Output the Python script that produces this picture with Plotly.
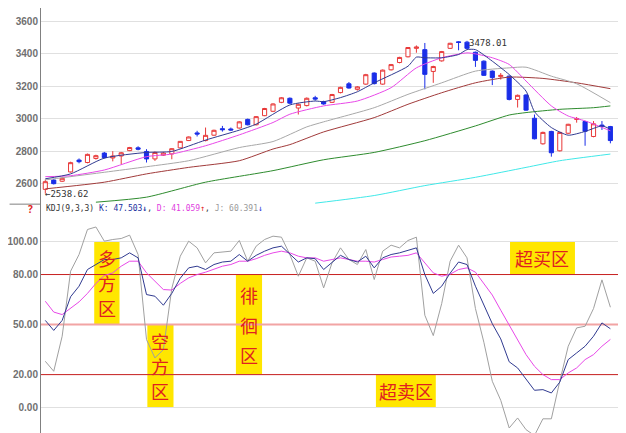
import plotly.graph_objects as go

# candles
idx = list(range(1, 69))
opens = [2565, 2622, 2615, 2672, 2745, 2730, 2755, 2788, 2758, 2770, 2803, 2820, 2798, 2752, 2775, 2783, 2820,
         2865, 2912, 2865, 2898, 2938, 2936, 2942, 2995, 2962, 3018, 3045, 3100, 3125, 3065, 3080, 3128, 3105,
         3100, 3160, 3214, 3180, 3212, 3280, 3212, 3300, 3345, 3380, 3432, 3424, 3290, 3355, 3432, 3472, 3470,
         3408, 3353, 3292, 3258, 3261, 3118, 3145, 3002, 2845, 2921, 2802, 2910, 2995, 2982, 2890, 2960, 2951]
highs = [2625, 2628, 2640, 2735, 2755, 2785, 2778, 2795, 2800, 2795, 2826, 2830, 2812, 2798, 2795, 2818, 2862,
         2890, 2925, 2945, 2932, 2955, 2945, 2984, 3000, 3016, 3066, 3094, 3132, 3130, 3092, 3130, 3140, 3110,
         3152, 3196, 3225, 3200, 3275, 3284, 3302, 3336, 3380, 3440, 3450, 3465, 3325, 3416, 3466, 3476, 3478.01,
         3412, 3358, 3296, 3280, 3265, 3148, 3150, 3025, 2920, 2925, 2920, 2968, 3010, 2986, 2985, 2985, 2955]
lows = [2538.62, 2595, 2610, 2668, 2725, 2725, 2748, 2755, 2737, 2720, 2800, 2805, 2730, 2740, 2770, 2750, 2818,
        2862, 2890, 2860, 2895, 2920, 2925, 2938, 2958, 2958, 3015, 3040, 3095, 3090, 3025, 3075, 3110, 3085,
        3096, 3155, 3184, 3172, 3208, 3210, 3208, 3296, 3340, 3376, 3405, 3180, 3220, 3350, 3428, 3420, 3425,
        3318, 3262, 3206, 3240, 3112, 3068, 3048, 2872, 2840, 2766, 2798, 2905, 2975, 2833, 2885, 2930, 2848]
closes = [2612, 2600, 2633, 2729, 2735, 2780, 2772, 2760, 2770, 2790, 2822, 2812, 2752, 2792, 2788, 2815, 2860,
          2887, 2905, 2897, 2928, 2932, 2930, 2980, 2962, 3012, 3062, 3090, 3128, 3095, 3088, 3125, 3120, 3090,
          3148, 3192, 3188, 3195, 3270, 3215, 3298, 3332, 3376, 3437, 3440, 3272, 3320, 3412, 3463, 3468, 3432,
          3358, 3266, 3252, 3266, 3118, 3143, 3052, 2876, 2915, 2790, 2915, 2965, 3000, 2922, 2968, 2954, 2865]

# moving averages, sampled at candle positions
ma5_x = [1, 4, 8, 13, 16, 20, 24, 26, 30, 33, 34, 36, 38, 40, 44, 45, 46, 48, 50, 51, 52, 54, 56, 58, 59, 61, 63, 65, 67, 68]
ma5_y = [2630, 2660, 2757, 2792, 2798, 2868, 2929, 2966, 3084, 3108, 3104, 3129, 3165, 3220, 3322, 3378, 3374, 3374,
         3394, 3424, 3424, 3353, 3271, 3169, 3043, 2945, 2898, 2921, 2955, 2935]
ma10_x = [1, 4, 8, 13, 16, 20, 24, 28, 30, 34, 38, 42, 45, 48, 51, 52, 54, 56, 58, 61, 63, 65, 68]
ma10_y = [2643, 2649, 2684, 2766, 2782, 2833, 2900, 2976, 3027, 3078, 3108, 3190, 3312, 3374, 3404, 3398, 3374,
          3333, 3231, 3078, 3016, 2986, 2925]
ma20_x = [1, 8, 13, 18, 24, 28, 32, 34, 40, 44, 48, 52, 56, 58, 61, 64, 68]
ma20_y = [2623, 2670, 2704, 2741, 2822, 2859, 2949, 2980, 3067, 3149, 3220, 3292, 3312, 3316, 3261, 3214, 3098]
ma30_x = [1, 8, 13, 18, 24, 28, 30, 34, 40, 44, 48, 52, 56, 60, 64, 68]
ma30_y = [2568, 2609, 2660, 2700, 2741, 2813, 2840, 2918, 3006, 3088, 3159, 3220, 3255, 3247, 3220, 3184]
ma60_x = [7, 13, 20, 28, 34, 40, 46, 52, 56, 58, 62, 66, 68]
ma60_y = [2486, 2517, 2609, 2680, 2747, 2792, 2864, 2955, 3022, 3037, 3057, 3067, 3078]
ma120_x = [33, 40, 46, 52, 58, 62, 68]
ma120_y = [2480, 2527, 2588, 2639, 2700, 2741, 2782]

# KDJ(9,3,3)
k_vals = [52.5, 46.5, 52.5, 66.7, 73, 83, 86, 89, 89, 90, 93, 90, 68, 67, 61.6, 68.7, 77.8, 84, 85, 83, 86, 87.5,
          88, 92, 88, 91.5, 94, 96, 97, 92, 87.5, 90, 89.5, 83, 87.5, 91.5, 89, 87.5, 91, 84, 90, 92, 93, 94.5, 96,
          80, 68.7, 73, 80.8, 87.5, 86, 73, 62, 50.5, 41.4, 27.7, 24, 17, 10.6, 11, 9, 15.5, 29, 33, 37, 43, 51, 47.5]
d_vals = [64, 57.5, 56, 59.6, 63.6, 68.7, 74.7, 79.4, 81, 85, 88, 88, 81, 76, 71, 70.7, 74.7, 78, 80, 81.4, 83, 85,
          86, 88, 88, 89.5, 91.5, 93, 94, 93, 91, 90, 90, 88, 89, 90, 89, 88, 88, 87.5, 89, 90.5, 91, 91.5, 93,
          87, 81, 79, 80.2, 83, 84, 81.4, 74.7, 67.7, 58.6, 49.5, 40.4, 32, 25, 20, 17, 17, 21, 24, 29, 32, 37, 41.1]
j_vals = [28, 22, 43, 82, 92, 107, 108.5, 100, 101, 101.6, 103.6, 92, 41, 30, 35, 71.7, 91, 100, 96, 87, 93, 93.5,
          94, 100.4, 88, 97, 101, 103, 102.4, 92, 79, 90, 88, 72, 87, 96, 89, 86, 95, 77, 94, 97.6, 96, 100.4, 102.4,
          55.6, 43.4, 62.6, 88, 97.6, 90, 59.6, 39.4, 16, 4.6, -12, -6, -13, -16.5, -6.5, -6.5, 16, 37, 48, 49,
          59.6, 76.8, 60.4]

# zone boxes: label, x0, x1, y0, y1 (in candle index / KDJ units); vertical labels get one char per row
zones = [("多方区", 6.8, 9.8, 50, 100, True),
         ("空方区", 13.1, 16.2, 0, 50, True),
         ("徘徊区", 23.6, 26.7, 20, 80, True),
         ("超买区", 56.1, 63.8, 80, 100, False),
         ("超卖区", 40.2, 47.3, 0, 20, False)]

x_span = [0.49, 70.8]

fig = go.Figure()

# reference lines on the KDJ panel
for lvl, col, w in [(80, '#c82020', 1), (50, '#f2a4a4', 2), (20, '#c82020', 1)]:
    fig.add_trace(go.Scatter(x=x_span, y=[lvl, lvl], mode='lines', line=dict(color=col, width=w),
                             yaxis='y2', showlegend=False, hoverinfo='skip'))

ma_sets = [(ma120_x, ma120_y, '#40e8e8'), (ma60_x, ma60_y, '#2e8b2e'), (ma30_x, ma30_y, '#a03a3a'),
           (ma20_x, ma20_y, '#a8a8a8'), (ma10_x, ma10_y, '#e848e8'), (ma5_x, ma5_y, '#303a90')]
for mx, my, col in ma_sets:
    fig.add_trace(go.Scatter(x=mx, y=my, mode='lines', line=dict(color=col, width=1, shape='spline', smoothing=0.6),
                             yaxis='y', showlegend=False, hoverinfo='skip'))

fig.add_trace(go.Candlestick(
    x=idx, open=opens, high=highs, low=lows, close=closes, yaxis='y', whiskerwidth=0,
    increasing=dict(line=dict(color='#e83838', width=1), fillcolor='white'),
    decreasing=dict(line=dict(color='#1a2ee8', width=1), fillcolor='#1a2ee8'),
    showlegend=False))

for vals, col in [(j_vals, '#a0a0a0'), (d_vals, '#e848e8'), (k_vals, '#303a90')]:
    fig.add_trace(go.Scatter(x=idx, y=vals, mode='lines', line=dict(color=col, width=1),
                             yaxis='y2', showlegend=False, hoverinfo='skip'))

zone_font = dict(family='Noto Sans CJK SC', size=18, color='#e02020')
for txt, x0, x1, y0, y1, vertical in zones:
    fig.add_shape(type='rect', xref='x', yref='y2', x0=x0, x1=x1, y0=y0, y1=y1,
                  fillcolor='#ffe600', line=dict(width=0), layer='below')
    if vertical:
        for ch, frac in zip(txt, [0.8, 0.5, 0.2]):
            fig.add_annotation(x=(x0 + x1) / 2, y=y0 + (y1 - y0) * frac, xref='x', yref='y2', text=ch,
                               showarrow=False, font=zone_font)
    else:
        fig.add_annotation(x=(x0 + x1) / 2, y=(y0 + y1) / 2, xref='x', yref='y2', text=txt,
                           showarrow=False, font=zone_font)

# separator between panels
fig.add_shape(type='line', xref='paper', yref='paper', x0=-0.053, x1=0, y0=0.547, y1=0.547,
              line=dict(color='#808080', width=1))

fig.add_annotation(x=1, y=2538.62, xref='x', yref='y', text='←2538.62', showarrow=False, xanchor='left',
                   yanchor='middle', xshift=-2, font=dict(family='DejaVu Sans Mono', size=9, color='#333'))
fig.add_annotation(x=51, y=3478.01, xref='x', yref='y', text='3478.01', showarrow=False, xanchor='left',
                   yshift=-2, font=dict(family='DejaVu Sans Mono', size=9, color='#333'))
fig.add_annotation(x=0.005, y=0.536, xref='paper', yref='paper', xanchor='left', yanchor='middle', showarrow=False,
                   text="KDJ(9,3,3) <span style='color:#2030a0'>K: 47.503<b>↓</b></span>, "
                        "<span style='color:#e040e0'>D: 41.059</span><span style='color:#e02020'>↑</span>, "
                        "<span style='color:#999'>J: 60.391</span><span style='color:#2030e0'>↓</span>",
                   font=dict(family='DejaVu Sans Mono', size=8, color='#333'))
fig.add_annotation(x=-0.01, y=0.536, xref='paper', yref='paper', xanchor='right', showarrow=False,
                   text='<b>?</b>', font=dict(size=10, color='#e02020'))

tick_font = dict(family='Liberation Sans', size=10, color='#707070', weight='bold')
fig.update_layout(
    width=626, height=433, margin=dict(l=33, r=0, t=0, b=0),
    plot_bgcolor='white', paper_bgcolor='white',
    xaxis=dict(range=x_span, showgrid=False, showticklabels=False, zeroline=False,
               rangeslider=dict(visible=False)),
    yaxis=dict(domain=[0.547, 1], range=[2474, 3680], tickvals=[2600, 2800, 3000, 3200, 3400, 3600],
               gridcolor='#e0e0e0', zeroline=False, showline=True, linecolor='#808080',
               tickfont=tick_font, ticks=''),
    yaxis2=dict(domain=[0, 0.547], range=[-19.8, 122.2], tickvals=[0, 20, 50, 80, 100],
                ticktext=['0.00', '20.00', '50.00', '80.00', '100.00'],
                gridcolor='#e0e0e0', zeroline=False, showline=True, linecolor='#808080',
                tickfont=tick_font, ticks=''),
    hovermode=False,
)

fig.write_html("out.html")
